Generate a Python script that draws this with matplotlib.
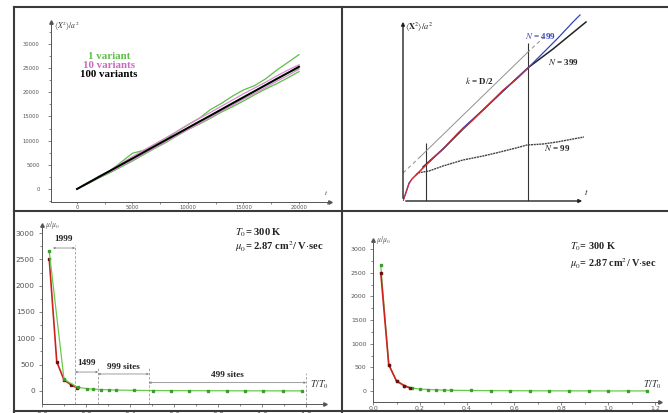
import matplotlib
matplotlib.use('Agg')

import numpy as np
import matplotlib.pyplot as plt
from matplotlib.ticker import MultipleLocator
from matplotlib.patches import Rectangle

plt.rcParams['mathtext.fontset'] = 'stix'

W, H = 668, 413

# ---- top left: <X^2>/a^2 against t ----
t_steps = [0, 1000, 2000, 3000, 4000, 5000, 6000, 7000, 8000, 9000, 10000,
           11000, 12000, 13000, 14000, 15000, 16000, 17000, 18000, 19000, 20000]
green_a = [0, 1300, 2700, 3800, 5600, 7400, 8000, 9100, 10300, 11900, 13300,
           14600, 16400, 17700, 19200, 20500, 21400, 22800, 24600, 26200, 27800]
green_b = [0, 1100, 2300, 3400, 4600, 5800, 7100, 8400, 9600, 11000, 12300,
           13400, 14600, 15900, 17000, 18200, 19500, 20700, 21800, 23000, 24300]
green_c = [0, 1400, 2400, 3700, 5100, 6300, 7700, 8900, 10200, 11300, 12700,
           14000, 15100, 16500, 17800, 19100, 20300, 21600, 22900, 24000, 25000]
pink_a = [0, 1300, 2600, 3900, 5300, 6700, 8000, 9300, 10600, 11900, 13300,
          14600, 15800, 17100, 18400, 19700, 20900, 22100, 23400, 24600, 25700]
pink_b = [0, 1200, 2400, 3600, 4800, 6000, 7300, 8500, 9800, 11100, 12300,
          13500, 14800, 16100, 17300, 18600, 19800, 21000, 22300, 23500, 24800]
black_a = [0, 1260, 2530, 3790, 5060, 6320, 7590, 8850, 10120, 11380, 12650,
           13910, 15180, 16440, 17710, 18970, 20240, 21500, 22770, 24030, 25300]
legend_names = ['1 variant', '10 variants', '100 variants']

# ---- top right: schematic (arbitrary units) ----
blue_t = [0, 3, 6, 9, 13, 18, 25, 40, 60, 80, 100, 126, 140, 155, 170, 177]
blue_y = [0, 9, 18, 22, 26, 31, 38, 52, 73, 91, 110, 134, 148, 163, 179, 186]
red_t = [0, 3, 6, 9, 13, 18, 25, 40, 55, 70, 85, 100, 115, 126]
red_y = [0, 8, 17, 22, 26, 31, 38, 52, 68, 81, 96, 111, 123, 134]
n399_t = [20, 40, 60, 80, 100, 126, 150, 183]
n399_y = [34, 52, 72, 91, 110, 134, 152, 179]
n99_t = [13, 15, 20, 26, 40, 60, 80, 93, 113, 124, 140, 154, 170, 181]
n99_y = [26, 28, 29, 30, 35, 41, 45, 48, 53, 56, 57, 59, 62, 64]
kd2_t = [0, 17, 124, 140]
kd2_y = [28, 44, 148, 163]
vline_t = [23, 125]
vline_top = [58, 158]

# ---- bottom: mobility against T/T0 ----
T_ratio = [0.033, 0.067, 0.1, 0.133, 0.167, 0.2, 0.233, 0.267, 0.3, 0.333,
           0.417, 0.5, 0.583, 0.667, 0.75, 0.833, 0.917, 1.0, 1.083, 1.167]
mu_green = [2660, 560, 215, 115, 62, 42, 32, 25, 20, 16,
            11, 8, 6, 5, 4, 3, 3, 2, 2, 2]
red_T = [0.033, 0.067, 0.1, 0.133, 0.158]
mu_red = [2500, 557, 210, 114, 62]
left_T = [0.033, 0.1, 0.162, 0.203, 0.233, 0.268, 0.306, 0.336, 0.42, 0.503,
          0.586, 0.67, 0.753, 0.84, 0.923, 1.006, 1.094, 1.18]
left_mu = [2650, 222, 70, 45, 35, 28, 22, 18, 12, 9, 7, 6, 5, 4, 3, 3, 2, 2]
site_edges = [0.05, 0.15, 0.255, 0.486, 1.2]
site_labels = ['1999', '1499', '999 sites', '499 sites']

fig = plt.figure(figsize=(W / 100, H / 100), dpi=100)
fig.patch.set_facecolor('white')

AXC = '#555555'
serif = 'Liberation Serif'


def px_axes(x0, y0, x1, y1):
    # pixel box (left, top, right, bottom) -> axes
    return fig.add_axes([x0 / W, 1 - y1 / H, (x1 - x0) / W, (y1 - y0) / H])


def style_axes(ax, fs):
    ax.patch.set_alpha(0)
    for s in ['top', 'right']:
        ax.spines[s].set_visible(False)
    for s in ['left', 'bottom']:
        ax.spines[s].set_color(AXC)
        ax.spines[s].set_linewidth(0.7)
    ax.tick_params(which='both', colors=AXC, labelsize=fs, width=0.5,
                   length=2.2, pad=1.0)
    ax.tick_params(which='minor', length=1.3)
    ax.plot(1, 0, '>', transform=ax.transAxes, clip_on=False, ms=2.5,
            color=AXC, mec=AXC)
    ax.plot(0, 1, '^', transform=ax.transAxes, clip_on=False, ms=2.5,
            color=AXC, mec=AXC)


# ---------- panel 1 ----------
ax1 = px_axes(51, 22, 330, 202)
ax1.set_xlim(-2342, 22793)
ax1.set_ylim(-2690, 34552)
style_axes(ax1, 3.8)
ax1.set_xticks([0, 5000, 10000, 15000, 20000])
ax1.set_yticks([0, 5000, 10000, 15000, 20000, 25000, 30000])
ax1.xaxis.set_minor_locator(MultipleLocator(2500))
ax1.yaxis.set_minor_locator(MultipleLocator(2500))
ax1.tick_params(axis='x', length=1.5, pad=0.8)
ax1.tick_params(axis='y', pad=6)
for ys in [green_b, green_c, green_a]:
    ax1.plot(t_steps, ys, color='#5cbf48', lw=0.9)
for ys in [pink_a, pink_b]:
    ax1.plot(t_steps, ys, color='#d98ad0', lw=0.9)
ax1.plot(t_steps, black_a, color='black', lw=1.4)
for name, col, yv in zip(legend_names, ['#5cbf48', '#cc66c0', 'black'],
                         [27350, 25600, 23750]):
    ax1.text(2900, yv, name, color=col, ha='center', va='center',
             fontsize=7.8, fontweight='bold', family=serif)
ax1.text(0.01, 0.978, r'$\langle X^2\rangle/a^2$', transform=ax1.transAxes,
         fontsize=5.5, color='#333333', va='center', ha='left')
ax1.text(0.985, 0.03, r'$t$', transform=ax1.transAxes, fontsize=5,
         color='#333333', ha='center', va='bottom')

# ---------- panel 2 ----------
ax2 = px_axes(403, 8, 598, 201)
ax2.set_xlim(0, 195)
ax2.set_ylim(0, 193)
ax2.axis('off')
ax2.annotate('', xy=(182, 0), xytext=(0, 0),
             arrowprops=dict(arrowstyle='-|>', color='#222222', lw=1.0,
                             mutation_scale=5))
ax2.annotate('', xy=(0, 182), xytext=(0, 0),
             arrowprops=dict(arrowstyle='-|>', color='#222222', lw=1.0,
                             mutation_scale=5))
ax2.vlines(vline_t, 0, vline_top, color='#333333', lw=0.8)
ax2.plot(kd2_t[0:2], kd2_y[0:2], color='#909090', lw=0.7, ls=(0, (4, 3)))
ax2.plot(kd2_t[1:3], kd2_y[1:3], color='#909090', lw=0.7)
ax2.plot(kd2_t[2:4], kd2_y[2:4], color='#909090', lw=0.7, ls=(0, (4, 3)))
ax2.plot(n99_t, n99_y, color='#444444', lw=1.0, ls=(0, (1.5, 0.5)))
ax2.plot(n399_t, n399_y, color='#222222', lw=1.1)
ax2.plot(blue_t, blue_y, color='#3344bb', lw=0.9)
ax2.plot(red_t, red_y, color='#e02a2a', lw=0.8)
ax2.text(137, 165, r'$N$ = 499', color='#3344bb', fontsize=6.5,
         fontweight='bold', family=serif, ha='center', va='center')
ax2.text(160, 139, r'$N$ = 399', color='#222222', fontsize=6.5,
         fontweight='bold', family=serif, ha='center', va='center')
ax2.text(76, 121, r'$k$ = D/2', color='#222222', fontsize=6.5,
         fontweight='bold', family=serif, ha='center', va='center')
ax2.text(154, 53, r'$N$ = 99', color='#222222', fontsize=6.5,
         fontweight='bold', family=serif, ha='center', va='center')
ax2.text(2, 174, r'$\langle \mathbf{X}^2\rangle/a^2$', fontsize=6,
         color='#222222', ha='left', va='center')
ax2.text(183, 9, r'$t$', fontsize=6.5, color='#222222', ha='center',
         va='center')


def mobility_text(ax, x, y1, y2, fs):
    ax.text(x, y1, r'$T_0$= 300 K', fontsize=fs, family=serif,
            fontweight='bold', color='#222222', va='center')
    ax.text(x, y2, r'$\mu_0$= 2.87 cm$^2$/ V$\cdot$sec', fontsize=fs,
            family=serif, fontweight='bold', color='#222222', va='center')


# ---------- panel 3 ----------
ax3 = px_axes(42, 225, 325, 404)
ax3.set_xlim(0, 1.286)
ax3.set_ylim(-247, 3152)
style_axes(ax3, 5.3)
ax3.set_yticks([0, 500, 1000, 1500, 2000, 2500, 3000])
ax3.yaxis.set_minor_locator(MultipleLocator(250))
ax3.set_xticks([0.0, 0.2, 0.4, 0.6, 0.8, 1.0, 1.2])
ax3.set_xticklabels(['0.0', '0.2', '0.4', '0.6', '0.8', '1.0', '1.2'])
ax3.xaxis.set_minor_locator(MultipleLocator(0.1))
ax3.tick_params(axis='y', pad=3)
ax3.tick_params(axis='x', pad=3.5)
ax3.plot(red_T, mu_red, color='#cc2222', lw=1.2, marker='s', ms=1.6,
         mfc='#6a1010', mec='#6a1010')
ax3.plot(left_T, left_mu, color='#66cc4a', lw=0.9, marker='s', ms=1.6,
         mfc='#3f9a30', mec='#3f9a30')
tops = [2780, 437, 461, 336]
for xv, top in zip(site_edges[1:], tops):
    ax3.vlines(xv, -247, top, color='#999999', lw=0.6, ls=(0, (3, 2)))
arrow_y = [2715, 360, 323, 158]
text_y = [2810, 450, 380, 220]
for i, lab in enumerate(site_labels):
    x0, x1 = site_edges[i], site_edges[i + 1]
    ax3.annotate('', xy=(x1, arrow_y[i]), xytext=(x0, arrow_y[i]),
                 arrowprops=dict(arrowstyle='<->', color='#777777', lw=0.5,
                                 mutation_scale=3, shrinkA=0, shrinkB=0))
    ax3.text((x0 + x1) / 2, text_y[i], lab, fontsize=6.6, family=serif,
             fontweight='bold', color='#222222', ha='center', va='bottom')
mobility_text(ax3, 0.877, 3010, 2750, 7.6)
ax3.text(0.01, 1.0, r'$\mu/\mu_0$', transform=ax3.transAxes, fontsize=5.5,
         color='#555555', ha='left', va='center')
ax3.text(1.26, 120, r'$T/T_0$', fontsize=7, color='#333333', ha='center',
         va='center')

# ---------- panel 4 ----------
ax4 = px_axes(373, 240, 660, 402)
ax4.set_xlim(0, 1.221)
ax4.set_ylim(-232, 3190)
style_axes(ax4, 4.5)
ax4.set_yticks([0, 500, 1000, 1500, 2000, 2500, 3000])
ax4.yaxis.set_minor_locator(MultipleLocator(250))
ax4.set_xticks([0.0, 0.2, 0.4, 0.6, 0.8, 1.0, 1.2])
ax4.set_xticklabels(['0.0', '0.2', '0.4', '0.6', '0.8', '1.0', '1.2'])
ax4.xaxis.set_minor_locator(MultipleLocator(0.1))
ax4.tick_params(axis='y', pad=2.5)
ax4.plot(T_ratio, mu_green, color='#66cc4a', lw=0.9, marker='s', ms=1.6,
         mfc='#3f9a30', mec='#3f9a30')
ax4.plot(red_T, mu_red, color='#cc2222', lw=1.2, marker='s', ms=1.6,
         mfc='#6a1010', mec='#6a1010')
mobility_text(ax4, 0.838, 3040, 2700, 7.4)
ax4.text(0.01, 1.0, r'$\mu/\mu_0$', transform=ax4.transAxes, fontsize=5.5,
         color='#555555', ha='left', va='center')
ax4.text(1.19, 130, r'$T/T_0$', fontsize=7, color='#333333', ha='center',
         va='center')

# ---------- frame ----------
ov = fig.add_axes([0, 0, 1, 1], zorder=10)
ov.set_xlim(0, W)
ov.set_ylim(H, 0)
ov.axis('off')
ov.patch.set_alpha(0)
ov.add_patch(Rectangle((0, 0), 13.5, H, color='white', zorder=1))
ov.add_patch(Rectangle((0, 0), W, 6.5, color='white', zorder=1))
fc = '#3a3a3a'
ov.plot([14, W], [7, 7], color=fc, lw=1.5, zorder=2)
ov.plot([14, W], [211, 211], color=fc, lw=1.5, zorder=2)
ov.plot([14, W], [411, 411], color=fc, lw=1.5, zorder=2)
ov.plot([14, 14], [7, 413], color=fc, lw=1.5, zorder=2)
ov.plot([342, 342], [7, 413], color=fc, lw=1.5, zorder=2)

fig.savefig('out.png', dpi=100)
